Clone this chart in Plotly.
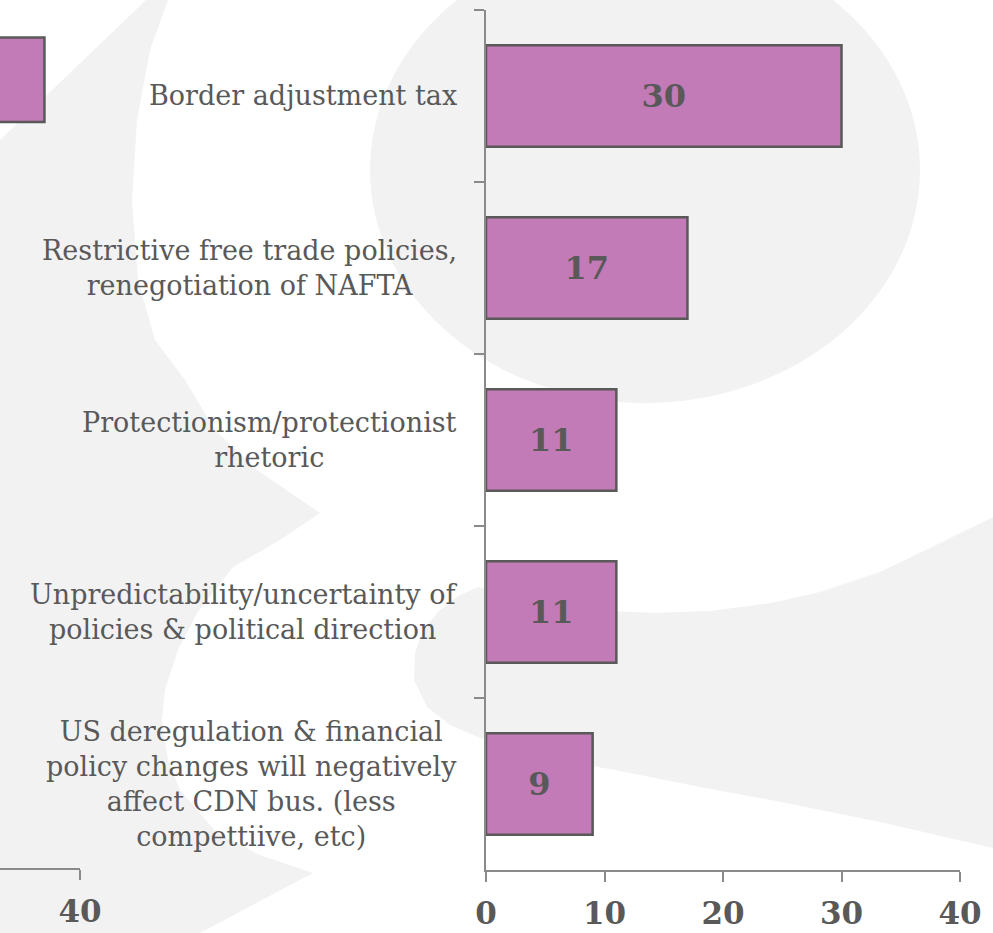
import plotly.graph_objects as go

# ---------------- data ----------------
categories = [
    "Border adjustment tax",
    "Restrictive free trade policies,<br>renegotiation of NAFTA",
    "Protectionism/protectionist<br>rhetoric",
    "Unpredictability/uncertainty of<br>policies & political direction",
    "US deregulation & financial<br>policy changes will negatively<br>affect CDN bus. (less<br>compettiive, etc)",
]
values = [30, 17, 11, 11, 9]
x_ticks = [0, 10, 20, 30, 40]

# partially visible neighbouring panel (cut off at the left edge)
left_categories = ["(cut off)"]
left_values = [37]
left_ticks = [40]

# ---------------- style ----------------
W, H = 993, 933
BAR = "#C27BB6"
EDGE = "#595959"
TEXT = "#595959"
AXIS = "#8A8A8A"
WM = "#F2F2F2"
FONT = "DejaVu Serif"

def px(x):
    return x / W

def py(y):
    return 1 - y / H

fig = go.Figure()

# main panel
fig.add_trace(go.Bar(
    y=categories, x=values, orientation="h", width=0.59,
    marker=dict(color=BAR, line=dict(color=EDGE, width=2.5)),
    text=[str(v) for v in values], textposition="inside",
    insidetextanchor="middle", textangle=0,
    textfont=dict(family=FONT, size=32, color=TEXT, weight="bold"),
    xaxis="x", yaxis="y", showlegend=False, hoverinfo="skip",
))

# left, cut-off panel
fig.add_trace(go.Bar(
    y=left_categories, x=left_values, orientation="h", width=0.59,
    marker=dict(color=BAR, line=dict(color=EDGE, width=2.5)),
    xaxis="x2", yaxis="y2", showlegend=False, hoverinfo="skip",
))

# plot area geometry
x0p, x1p = 486, 960
y0p, y1p = 10, 870
ydom = [py(y1p), py(y0p)]
scale = (x1p - x0p) / 40.0

common_x = dict(
    ticks="outside", ticklen=10, tickwidth=1.5, tickcolor=AXIS,
    showline=True, linecolor=AXIS, linewidth=1.5, showgrid=False,
    zeroline=False, automargin=False,
    tickfont=dict(family=FONT, size=31, color=TEXT, weight="bold"),
    ticklabelstandoff=5,
)

fig.update_layout(
    width=W, height=H, autosize=False,
    margin=dict(l=0, r=0, t=0, b=0),
    paper_bgcolor="white", plot_bgcolor="rgba(0,0,0,0)",
    font=dict(family=FONT, color=TEXT),
    xaxis=dict(domain=[px(x0p), px(x1p)], range=[0, 40], anchor="y",
               tickvals=x_ticks, **common_x),
    yaxis=dict(
        domain=ydom, type="category", categoryorder="array",
        categoryarray=categories, range=[len(categories) - 0.5, -0.5],
        anchor="x", tickson="boundaries", ticks="outside", ticklen=10,
        tickwidth=1.5, tickcolor=AXIS, showline=True, linecolor=AXIS,
        linewidth=1.5, showgrid=False, zeroline=False, showticklabels=False,
        automargin=False,
    ),
    xaxis2=dict(domain=[0, px(80)], range=[40 - 80 / scale, 40], anchor="y2",
                tickvals=left_ticks, **common_x),
    yaxis2=dict(
        domain=[py(868), py(8)], type="category", range=[5.5, -0.5],
        anchor="x2", showline=False, ticks="", showticklabels=False,
        showgrid=False, zeroline=False, automargin=False,
    ),
)

# category labels (centred multi-line text, right-aligned block)
for c in categories:
    fig.add_annotation(
        x=px(459), xref="paper", y=c, yref="y",
        xanchor="right", yanchor="middle", align="center",
        text=c, showarrow=False,
        font=dict(family=FONT, size=27, color=TEXT),
    )

# ---------------- background watermark ----------------
def path_from(points):
    return "M " + " L ".join(f"{px(x):.5f},{py(y):.5f}" for x, y in points) + " Z"

wm_left = [(0, 140), (146, 0), (168, 0), (150, 50), (137, 120), (132, 200),
           (138, 280), (155, 340), (185, 380), (215, 430), (257, 470),
           (320, 513), (280, 540), (233, 567), (197, 613), (178, 650),
           (165, 690), (162, 720), (168, 760), (180, 790), (217, 833),
           (260, 855), (313, 873), (200, 933), (0, 933)]
wm_band = [(993, 517), (930, 548), (880, 572), (820, 592), (771, 603),
           (710, 611), (654, 613), (615, 611), (550, 603), (500, 592),
           (478, 587), (458, 596), (439, 611), (423, 630), (415, 653),
           (414, 680), (427, 707), (450, 725), (478, 737), (540, 757),
           (615, 770), (700, 787), (771, 800), (880, 822), (993, 848)]

shapes = [
    dict(type="path", xref="paper", yref="paper", path=path_from(wm_left),
         fillcolor=WM, line=dict(width=0), layer="below"),
    dict(type="path", xref="paper", yref="paper", path=path_from(wm_band),
         fillcolor=WM, line=dict(width=0), layer="below"),
    dict(type="circle", xref="paper", yref="paper",
         x0=px(645 - 275), x1=px(645 + 275), y0=py(170 + 233), y1=py(170 - 233),
         fillcolor=WM, line=dict(width=0), layer="below"),
]
fig.update_layout(shapes=shapes)

fig.write_html(
    "out.html",
    config={"responsive": False, "displayModeBar": False},
    post_script="document.body.style.margin='0';document.body.style.overflow='hidden';",
)
